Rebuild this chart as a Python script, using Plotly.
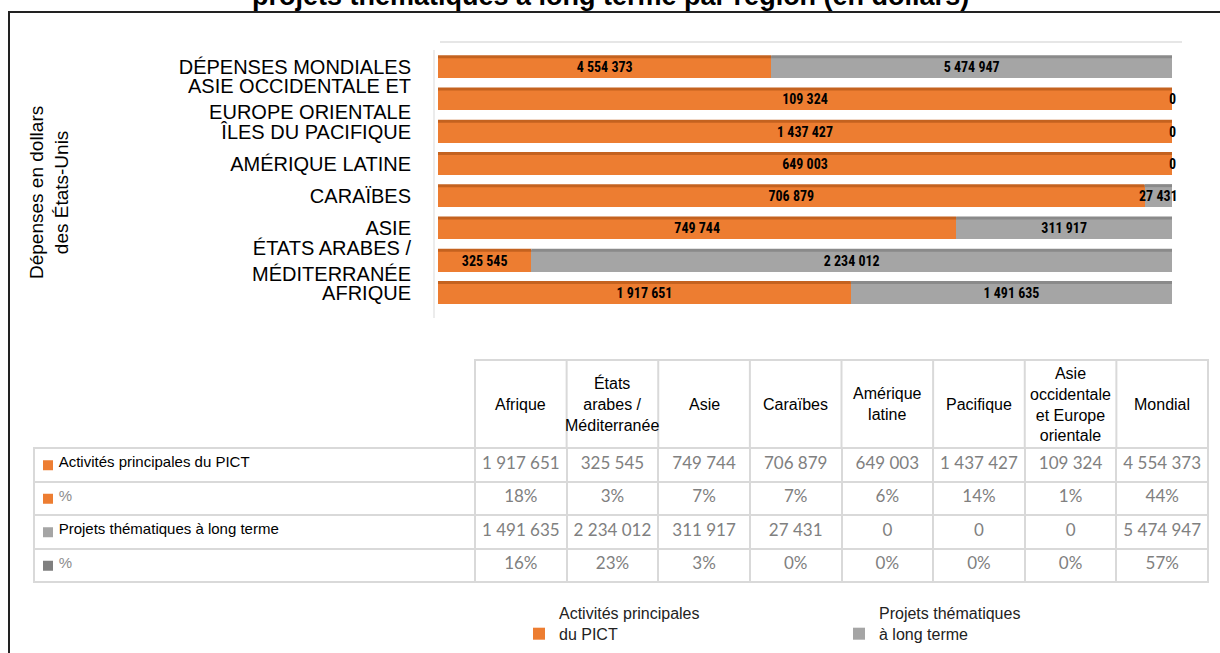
import plotly.graph_objects as go

W, H = 1220, 653

# ---------------- data ----------------
regions_bar = ["AFRIQUE", "ÉTATS ARABES /<br>MÉDITERRANÉE", "ASIE", "CARAÏBES",
               "AMÉRIQUE LATINE", "ÎLES DU PACIFIQUE",
               "ASIE OCCIDENTALE ET<br>EUROPE ORIENTALE", "DÉPENSES MONDIALES"]
core = [1917651, 325545, 749744, 706879, 649003, 1437427, 109324, 4554373]
thematic = [1491635, 2234012, 311917, 27431, 0, 0, 0, 5474947]
core_pct = ["18%", "3%", "7%", "7%", "6%", "14%", "1%", "44%"]
them_pct = ["16%", "23%", "3%", "0%", "0%", "0%", "0%", "57%"]
table_headers = ["Afrique", "États<br>arabes /<br>Méditerranée", "Asie", "Caraïbes",
                 "Amérique<br>latine", "Pacifique",
                 "Asie<br>occidentale<br>et Europe<br>orientale", "Mondial"]
series_names = ["Activités principales<br>du PICT", "Projets thématiques<br>à long terme"]
row_labels = ["Activités principales du PICT", "%", "Projets thématiques à long terme", "%"]
title_text = "projets thématiques à long terme par région (en dollars)"
ytitle_text = "Dépenses en dollars<br>des États-Unis"

ORANGE = "#ED7D31"
GRAY = "#A5A5A5"
DARKGRAY = "#7F7F7F"
row_key_colors = [ORANGE, ORANGE, GRAY, DARKGRAY]
row_text_colors = ["black", "#8c8c8c", "black", "#8c8c8c"]
NBSP = "\u00a0"


def fmt(v, sep=" "):
    return f"{v:,}".replace(",", sep)


def px(x):
    return x / W


def py(y):
    return 1 - y / H


fig = go.Figure()

NUMFONT = dict(family="Roboto Condensed, Roboto, sans-serif",
               size=14, color="black", weight="bold")

core_share = [c / (c + t) * 100 for c, t in zip(core, thematic)]
them_share = [100 - s for s in core_share]
narrow = [s < 5 for s in them_share]   # gray segments too narrow to hold their label

fig.add_trace(go.Bar(
    y=regions_bar, x=core, orientation="h", name=series_names[0],
    marker=dict(color=ORANGE, line=dict(width=0)),
    text=[fmt(v) for v in core], textposition="inside", insidetextanchor="middle",
    textangle=0, constraintext="none", textfont=NUMFONT, cliponaxis=False,
    hoverinfo="skip",
))
fig.add_trace(go.Bar(
    y=regions_bar, x=thematic, orientation="h", name=series_names[1],
    marker=dict(color=GRAY, line=dict(width=0)),
    text=[fmt(v) for v in thematic],
    textposition=["none" if n else "inside" for n in narrow],
    insidetextanchor="middle", textangle=0, constraintext="none",
    textfont=NUMFONT, cliponaxis=False, hoverinfo="skip",
))

# ---------------- table ----------------
x_tab0, x_tab1 = 34, 1208
first_w = 441
col_w = (x_tab1 - x_tab0 - first_w) / 8
y_body0, row_h = 448, 33.5

lab_col = [NBSP * 4 + s.replace(" ", NBSP) for s in row_labels]
data_cols = []
for i in range(8):
    data_cols.append([fmt(core[i], NBSP), core_pct[i], fmt(thematic[i], NBSP), them_pct[i]])

fig.add_trace(go.Table(
    domain=dict(x=[px(x_tab0), px(x_tab1)], y=[py(583), py(360)]),
    columnwidth=[first_w] + [col_w] * 8,
    header=dict(values=[""] * 9, height=88,
                fill=dict(color="rgba(0,0,0,0)"),
                line=dict(color="rgba(0,0,0,0)", width=0)),
    cells=dict(
        values=[lab_col] + data_cols,
        align=["left"] + ["center"] * 8,
        height=row_h,
        line=dict(color="#D9D9D9", width=2),
        fill=dict(color="white"),
        font=dict(family=["Liberation Sans, Arial, sans-serif"] + ["Lato, sans-serif"] * 8,
                  size=[15] + [17] * 8,
                  color=[row_text_colors] + ["#808080"] * 8),
    ),
))

shapes = []
annotations = []

# legend keys of the table rows
for r, col in enumerate(row_key_colors):
    yc = y_body0 + (r + 0.5) * row_h
    shapes.append(dict(type="rect", xref="paper", yref="paper",
                       x0=px(43), x1=px(53), y0=py(yc + 5.5), y1=py(yc - 4.5),
                       fillcolor=col, line=dict(width=0), layer="above"))

# labels of the gray segments that are too narrow: centred on their segment
for i, n in enumerate(narrow):
    if n:
        annotations.append(dict(
            xref="x", yref="y", x=core_share[i] + them_share[i] / 2, y=regions_bar[i],
            text=fmt(thematic[i]), showarrow=False, xanchor="center", yanchor="middle",
            font=NUMFONT,
        ))

# table header (borders + text)
hx0 = x_tab0 + first_w
shapes.append(dict(type="rect", xref="paper", yref="paper",
                   x0=px(hx0), x1=px(x_tab1), y0=py(448), y1=py(360),
                   line=dict(color="#D9D9D9", width=2), layer="above"))
for i, lab in enumerate(table_headers):
    if i > 0:
        xx = hx0 + i * col_w
        shapes.append(dict(type="line", xref="paper", yref="paper",
                           x0=px(xx), x1=px(xx), y0=py(448), y1=py(360),
                           line=dict(color="#D9D9D9", width=2), layer="above"))
    annotations.append(dict(
        xref="paper", yref="paper", x=px(hx0 + (i + 0.5) * col_w), y=py(404),
        text=lab, showarrow=False, xanchor="center", yanchor="middle",
        font=dict(family="Liberation Sans, Arial, sans-serif", size=16, color="black"),
    ))

# 3D-like accents on bars
for i in range(len(core)):
    pc = core_share[i]
    shapes.append(dict(type="rect", xref="x", yref="y", x0=0, x1=pc,
                       ysizemode="pixel", yanchor=i, y0=9, y1=12,
                       fillcolor="#C4621F", line=dict(width=0), layer="above"))
    if thematic[i] > 0:
        shapes.append(dict(type="rect", xref="x", yref="y", x0=pc, x1=100,
                           ysizemode="pixel", yanchor=i, y0=9, y1=12,
                           fillcolor="#8A8A8A", line=dict(width=0), layer="above"))
    shapes.append(dict(type="path", xref="x", yref="y",
                       xsizemode="pixel", xanchor=100, ysizemode="pixel", yanchor=i,
                       path="M0,-11 L5,-8 L5,13 L0,12 Z",
                       fillcolor="#5A5A5A", line=dict(width=0), layer="below"))

# light back wall lines
shapes.append(dict(type="line", xref="paper", yref="paper",
                   x0=px(440), x1=px(1182), y0=py(42), y1=py(42),
                   line=dict(color="#E6E6E6", width=2)))
shapes.append(dict(type="line", xref="paper", yref="paper",
                   x0=px(434), x1=px(434), y0=py(50), y1=py(318),
                   line=dict(color="#E6E6E6", width=1.5)))

# outer frame
shapes.append(dict(type="rect", xref="paper", yref="paper",
                   x0=px(9), x1=px(1240), y0=py(12), y1=py(700),
                   line=dict(color="#222222", width=2), layer="above"))

# title (clipped at top as in reference)
annotations.append(dict(
    xref="paper", yref="paper", x=px(610), y=py(13), xanchor="center", yanchor="bottom",
    text=f"<b>{title_text}</b>", showarrow=False,
    font=dict(family="Liberation Sans, Arial, sans-serif", size=27, color="black"),
))
# y-axis title
annotations.append(dict(
    xref="paper", yref="paper", x=px(49), y=py(193), xanchor="center", yanchor="middle",
    text=ytitle_text, showarrow=False, textangle=-90,
    font=dict(family="Liberation Sans, Arial, sans-serif", size=19, color="black"),
))

fig.update_layout(
    width=W, height=H,
    margin=dict(l=0, r=0, t=0, b=0),
    paper_bgcolor="white", plot_bgcolor="white",
    barmode="stack", barnorm="percent", bargap=0.32,
    showlegend=True,
    legend=dict(orientation="h", x=px(519), y=py(596), xanchor="left", yanchor="top",
                entrywidth=275, entrywidthmode="pixels", valign="bottom",
                font=dict(family="Liberation Sans, Arial, sans-serif", size=16, color="#222"),
                bgcolor="rgba(0,0,0,0)", traceorder="normal"),
    xaxis=dict(domain=[px(438), px(1172)], range=[0, 100], visible=False, fixedrange=True),
    yaxis=dict(domain=[py(309), py(51)], type="category", categoryorder="array",
               categoryarray=regions_bar, showgrid=False, ticks="", showline=False,
               ticklabelstandoff=26, fixedrange=True,
               tickfont=dict(family="Liberation Sans, Arial, sans-serif", size=20, color="black")),
    shapes=shapes, annotations=annotations,
)

fig.write_html("out.html", config={"displayModeBar": False},
               post_script="document.body.style.margin='0';")
